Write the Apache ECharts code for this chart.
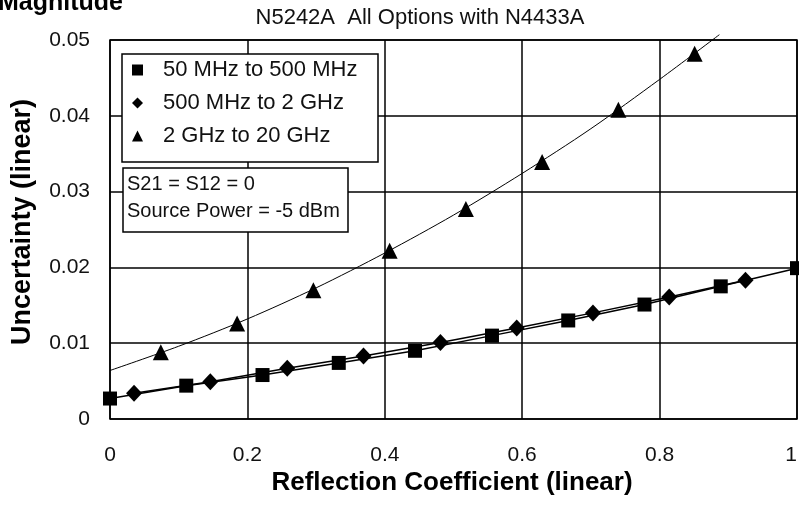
<!DOCTYPE html>
<html>
<head>
<meta charset="utf-8">
<script src="https://cdn.jsdelivr.net/npm/echarts@6/dist/echarts.min.js"></script>
<style>
  html, body { margin: 0; padding: 0; background: #fff; }
  #chart { width: 799px; height: 508px; }
</style>
</head>
<body>
<div id="chart"></div>
<script>
// Reflection coefficient (x) and magnitude uncertainty (y) for each frequency band
const bandNames = ['50 MHz to 500 MHz', '500 MHz to 2 GHz', '2 GHz to 20 GHz'];

const reflLow = [0, 0.111, 0.222, 0.333, 0.444, 0.556, 0.667, 0.778, 0.889, 1.0];
const uncLow = [0.0027, 0.0044, 0.0058, 0.0074, 0.0090, 0.0110, 0.0130, 0.0151, 0.0175, 0.0199];

const reflMid = [0.035, 0.146, 0.258, 0.369, 0.481, 0.592, 0.703, 0.814, 0.925];
const uncMid = [0.0034, 0.0049, 0.0067, 0.0083, 0.0101, 0.0120, 0.0140, 0.0161, 0.0183];

const reflHigh = [0.074, 0.185, 0.296, 0.407, 0.518, 0.629, 0.740, 0.851];
const uncHigh = [0.0088, 0.0126, 0.0170, 0.0222, 0.0277, 0.0339, 0.0408, 0.0482];

// Trend curve drawn through the 2 GHz to 20 GHz band
const reflTrend = [0, 0.1, 0.2, 0.3, 0.4, 0.5, 0.6, 0.7, 0.8, 0.887];
const uncTrend = [0.0064, 0.0096, 0.0132, 0.0173, 0.0219, 0.0269, 0.0324, 0.0383, 0.0448, 0.0507];

const xTicks = [0, 0.2, 0.4, 0.6, 0.8, 1];
const yTicks = [0, 0.01, 0.02, 0.03, 0.04, 0.05];

const chartTitle = 'N5242A  All Options with N4433A';
const headerText = 'Magnitude';
const xTitle = 'Reflection Coefficient (linear)';
const yTitle = 'Uncertainty (linear)';
const noteLines = ['S21 = S12 = 0', 'Source Power = -5 dBm'];

const FONT = "'Liberation Sans', Arial, sans-serif";
const pairs = (xs, ys) => xs.map((x, i) => [x, ys[i]]);

const chart = echarts.init(document.getElementById('chart'), null, { renderer: 'canvas' });

chart.setOption({
  animation: false,
  backgroundColor: '#fff',
  textStyle: { fontFamily: FONT, color: '#000' },
  grid: {
    left: 110, right: 2, top: 40, bottom: 89,
    containLabel: false, outerBoundsMode: 'none',
    show: true, borderColor: '#000', borderWidth: 1.5, backgroundColor: 'transparent'
  },
  xAxis: {
    type: 'value',
    min: xTicks[0], max: xTicks[xTicks.length - 1], interval: 0.2,
    axisLine: { show: false },
    axisTick: { show: false },
    splitLine: { show: true, lineStyle: { color: '#000', width: 1.5 } },
    axisLabel: {
      margin: 26, fontSize: 21, fontFamily: FONT, color: '#111',
      alignMaxLabel: 'right',
      formatter: v => (v === 0 || v === 1) ? String(v) : v.toFixed(1)
    }
  },
  yAxis: {
    type: 'value',
    min: yTicks[0], max: yTicks[yTicks.length - 1], interval: 0.01,
    axisLine: { show: false },
    axisTick: { show: false },
    splitLine: { show: true, lineStyle: { color: '#000', width: 1.5 } },
    axisLabel: {
      margin: 20, fontSize: 21, fontFamily: FONT, color: '#111',
      formatter: v => v === 0 ? '0' : v.toFixed(2)
    }
  },
  legend: {
    orient: 'vertical',
    left: 132, top: 59,
    itemWidth: 11, itemHeight: 11,
    itemGap: 11,
    padding: 0,
    selectedMode: false,
    textStyle: { fontSize: 22, fontFamily: FONT, color: '#111', lineHeight: 22, padding: [0, 0, 0, 15] },
    data: [
      { name: bandNames[0], icon: 'rect', itemStyle: { opacity: 1 } },
      { name: bandNames[1], icon: 'diamond', itemStyle: { opacity: 1 } },
      { name: bandNames[2], icon: 'triangle', itemStyle: { opacity: 1 } }
    ],
    z: 6
  },
  graphic: [
    {
      type: 'text', left: -2, top: -9, z: 10,
      style: { text: headerText, font: "bold 25px " + FONT, fill: '#000' }
    },
    {
      type: 'text', x: 420, y: 18, z: 10,
      style: { text: chartTitle, font: "22px " + FONT, fill: '#111', textAlign: 'center', textVerticalAlign: 'middle' }
    },
    {
      type: 'text', x: 452, y: 483, z: 10,
      style: { text: xTitle, font: "bold 26px " + FONT, fill: '#000', textAlign: 'center', textVerticalAlign: 'middle' }
    },
    {
      type: 'text', x: 23, y: 222, rotation: Math.PI / 2, z: 10,
      style: { text: yTitle, font: "bold 27px " + FONT, fill: '#000', textAlign: 'center', textVerticalAlign: 'middle' }
    },
    {
      type: 'rect', z: 5,
      shape: { x: 122, y: 54, width: 256, height: 108 },
      style: { fill: '#fff', stroke: '#000', lineWidth: 1.5 }
    },
    {
      type: 'rect', z: 5,
      shape: { x: 123, y: 168, width: 225, height: 64 },
      style: { fill: '#fff', stroke: '#000', lineWidth: 1.5 }
    },
    {
      type: 'text', x: 127, y: 184, z: 7,
      style: { text: noteLines[0], font: "20px " + FONT, fill: '#111', textVerticalAlign: 'middle' }
    },
    {
      type: 'text', x: 127, y: 211, z: 7,
      style: { text: noteLines[1], font: "20px " + FONT, fill: '#111', textVerticalAlign: 'middle' }
    }
  ],
  series: [
    {
      name: bandNames[0], type: 'line',
      data: pairs(reflLow, uncLow),
      symbol: 'rect', symbolSize: 14,
      itemStyle: { color: '#000', opacity: 1 },
      lineStyle: { color: '#000', width: 1.5 },
      clip: false, z: 3
    },
    {
      name: bandNames[1], type: 'line',
      data: pairs(reflMid, uncMid),
      symbol: 'diamond', symbolSize: [16, 17],
      itemStyle: { color: '#000', opacity: 1 },
      lineStyle: { color: '#000', width: 1.5 },
      clip: false, z: 3
    },
    {
      name: bandNames[2], type: 'scatter',
      data: pairs(reflHigh, uncHigh),
      symbol: 'triangle', symbolSize: [16, 16],
      itemStyle: { color: '#000', opacity: 1 },
      z: 4
    },
    {
      name: 'trend', type: 'line',
      data: pairs(reflTrend, uncTrend),
      smooth: 0.3,
      showSymbol: false, symbol: 'none',
      lineStyle: { color: '#000', width: 1 },
      clip: false, z: 3
    }
  ]
});
</script>
</body>
</html>
